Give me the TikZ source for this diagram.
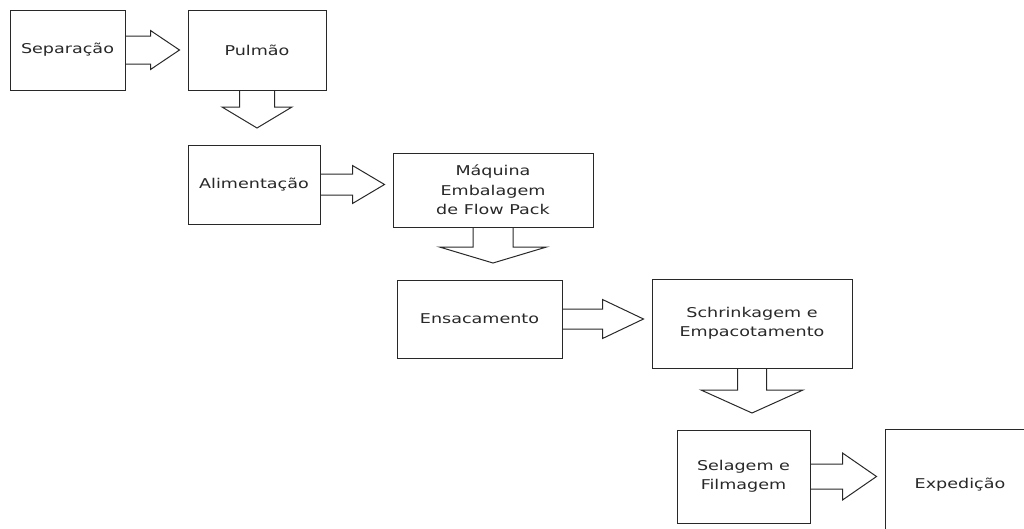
\documentclass[tikz,border=0pt]{standalone}
\usepackage{fontspec}
\setmainfont{DejaVu Sans}[FakeStretch=1.3]
\usepackage{xcolor}
\usepackage{tikz}
\usetikzlibrary{calc}
\definecolor{flowgray}{RGB}{40, 40, 40}
\tikzset{
  stage/.style={draw=flowgray, line width=1pt, inner sep=0pt, align=center,
    text=flowgray, font=\fontsize{13.5}{19.5}\selectfont},
  flowline/.style={draw=flowgray, line width=1pt, line join=miter}
}
% #1 from, #2 to, #3 shaft half, #4 head half, #5 head length
\newcommand{\harrow}[5]{%
  \coordinate (tip) at ($(#2.west |- #1.east)+(-8,0)$);
  \draw[flowline] ($(#1.east)+(0,#3)$) -- ($(tip)+(-#5,#3)$) -- ($(tip)+(-#5,#4)$)
    -- (tip) -- ($(tip)+(-#5,-#4)$) -- ($(tip)+(-#5,-#3)$) -- ($(#1.east)+(0,-#3)$);
}
\newcommand{\varrow}[5]{%
  \coordinate (tip) at ($(#1.south |- #2.north)+(0,-16.5)$);
  \draw[flowline] ($(#1.south)+(#3,0)$) -- ($(tip)+(#3,-#5)$) -- ($(tip)+(#4,-#5)$)
    -- (tip) -- ($(tip)+(-#4,-#5)$) -- ($(tip)+(-#3,-#5)$) -- ($(#1.south)+(-#3,0)$);
}

\begin{document}
\begin{tikzpicture}[x=1pt,y=-1pt]
                \clip (0,0) rectangle (1024,528);

                \node[stage, minimum width=115, minimum height=80] (sep) at (67.5,50) {Separação};
                \node[stage, minimum width=138, minimum height=80] (pul) at (257,50) {Pulmão};
                \node[stage, minimum width=132, minimum height=79] (ali) at (254,184.5) {Alimentação};
                \node[stage, minimum width=200, minimum height=74] (maq) at (493,190) {Máquina\\Embalagem\\de Flow Pack};
                \node[stage, minimum width=165, minimum height=78] (ens) at (479.5,319) {Ensacamento};
                \node[stage, minimum width=200, minimum height=89] (shr) at (752,323.5) {Schrinkagem e\\Empacotamento};
                \node[stage, minimum width=133, minimum height=93] (sel) at (743.5,476.5) {Selagem e\\Filmagem};
                \node[stage, minimum width=150, minimum height=111] (exp) at (960,484.5) {Expedição};

                \harrow{sep}{pul}{14}{19.5}{29}
                \varrow{pul}{ali}{17.5}{35}{21}
                \harrow{ali}{maq}{10.5}{19}{32}
                \varrow{maq}{ens}{20}{53.5}{16}
                \harrow{ens}{shr}{10}{19.5}{41}
                \varrow{shr}{sel}{14.5}{51}{23}
                \harrow{sel}{exp}{12.5}{23.5}{34}
            \end{tikzpicture}
\end{document}
